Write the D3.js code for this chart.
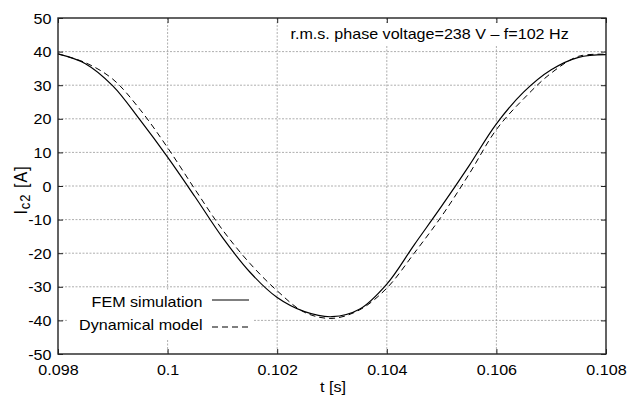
<!DOCTYPE html>
<html><head><meta charset="utf-8">
<script src="https://cdn.jsdelivr.net/npm/d3@7"></script>
<style>body{margin:0;background:#fff}svg{display:block}text{font-family:"Liberation Sans",Arial,sans-serif;fill:#000}</style>
</head><body>
<svg id="c" width="629" height="397"></svg>
<script>
const xTicks = [0.098, 0.1, 0.102, 0.104, 0.106, 0.108];
const xTickLabels = ["0.098", "0.1", "0.102", "0.104", "0.106", "0.108"];
const yTicks = [-50, -40, -30, -20, -10, 0, 10, 20, 30, 40, 50];

const timeS = [0.0980,0.0985,0.0990,0.0995,0.1000,0.1005,0.1010,0.1015,0.1020,0.1025,0.1030,0.1035,0.1040,0.1045,0.1050,0.1055,0.1060,0.1065,0.1070,0.1075,0.1080];
const femV  = [39.3, 36.4, 29.8, 19.6,  8.6, -3.2,-15.3,-25.6,-33.2,-37.4,-38.9,-36.7,-29.2,-17.5, -6.0,  6.0, 18.5, 28.0, 34.6, 38.3, 39.1];
const dynV  = [39.3, 36.7, 31.8, 22.7, 11.4, -1.0,-13.0,-23.0,-31.2,-37.6,-39.4,-36.9,-30.4,-20.0, -9.0,  3.5, 16.8, 26.0, 33.6, 38.6, 39.2];

const title = "r.m.s. phase voltage=238 V \u2013 f=102 Hz";
const seriesNames = ["FEM simulation", "Dynamical model"];

const SX = 1.15; // horizontal stretch of the text
const svg = d3.select("#c");
const L = 58, R = 606, T = 18, B = 354;
const x = d3.scaleLinear().domain([0.098, 0.108]).range([L, R]);
const y = d3.scaleLinear().domain([-50, 50]).range([B, T]);

// grid
const grid = svg.append("g").attr("stroke", "#999").attr("stroke-width", 0.8).attr("stroke-dasharray", "2,1.5");
grid.selectAll(".gx").data(xTicks.slice(1, -1)).join("line")
  .attr("x1", d => x(d)).attr("x2", d => x(d)).attr("y1", T).attr("y2", B);
grid.selectAll(".gy").data(yTicks.slice(1, -1)).join("line")
  .attr("x1", L).attr("x2", R).attr("y1", d => y(d)).attr("y2", d => y(d));

// curves
const pts = vs => timeS.map((t, i) => [t, vs[i]]);
const line = d3.line().x(d => x(d[0])).y(d => y(d[1])).curve(d3.curveCatmullRom.alpha(0.5));
svg.append("path").attr("d", line(pts(femV))).attr("fill", "none").attr("stroke", "#000").attr("stroke-width", 1.2);
svg.append("path").attr("d", line(pts(dynV))).attr("fill", "none").attr("stroke", "#000").attr("stroke-width", 1).attr("stroke-dasharray", "6,4");

// axes (ticks inward, mirrored)
const axB = d3.axisBottom(x).tickValues(xTicks).tickFormat((d, i) => xTickLabels[i]).tickSizeInner(-5).tickSizeOuter(0).tickPadding(10);
const axL = d3.axisLeft(y).tickValues(yTicks).tickFormat(d => String(d)).tickSizeInner(-5).tickSizeOuter(0).tickPadding(6);
const axT = d3.axisTop(x).tickValues(xTicks).tickFormat("").tickSizeInner(-5).tickSizeOuter(0);
const axR = d3.axisRight(y).tickValues(yTicks).tickFormat("").tickSizeInner(-5).tickSizeOuter(0);
function style(g) {
  g.select(".domain").remove();
  g.selectAll("line").attr("stroke", "#222").attr("stroke-width", 1);
  g.selectAll("text").attr("font-size", 14).attr("font-family", "Liberation Sans, Arial, sans-serif").attr("fill", "#000");
}
const gB = svg.append("g").attr("transform", `translate(0,${B})`).call(axB).call(style);
gB.selectAll(".tick text").attr("y", 0).attr("dy", 0).attr("transform", `translate(0,21) scale(${SX},1)`);
const gL = svg.append("g").attr("transform", `translate(${L},0)`).call(axL).call(style);
gL.selectAll(".tick text").attr("x", 0).attr("dy", "0.36em").attr("transform", `translate(-6.5,0) scale(${SX},1)`);
svg.append("g").attr("transform", `translate(0,${T})`).call(axT).call(style);
svg.append("g").attr("transform", `translate(${R},0)`).call(axR).call(style);

svg.append("rect").attr("x", L).attr("y", T).attr("width", R - L).attr("height", B - T)
  .attr("fill", "none").attr("stroke", "#222").attr("stroke-width", 1.4);

function stxt(px, py, str, anchor) {
  return svg.append("text").attr("transform", `translate(${px},${py}) scale(${SX},1)`)
    .attr("text-anchor", anchor || "start").attr("font-size", 14).text(str);
}

// legend
svg.append("rect").attr("x", 67).attr("y", 290).attr("width", 186).attr("height", 49).attr("fill", "#fff");
const legY = [306.5, 330];
const legLineY = [300, 327];
seriesNames.forEach((n, i) => {
  stxt(202.5, legY[i], n, "end");
  svg.append("line").attr("x1", 212).attr("x2", 249).attr("y1", legLineY[i]).attr("y2", legLineY[i])
    .attr("stroke", "#000").attr("stroke-width", 1.1).attr("stroke-dasharray", i ? "6,4" : null);
});
svg.append("rect").attr("x", 286).attr("y", 23).attr("width", 292).attr("height", 23).attr("fill", "#fff");
stxt(290.5, 39, title);

// axis labels
stxt(333, 392, "t [s]", "middle");
const yl = svg.append("text").attr("transform", `translate(27,190) scale(${SX},1) rotate(-90)`)
  .attr("text-anchor", "middle").attr("font-size", 16).attr("letter-spacing", 1);
yl.append("tspan").text("I");
yl.append("tspan").attr("font-size", 13).attr("dy", 3).text("c2");
yl.append("tspan").attr("dy", -3).text(" [A]");
</script>
</body></html>
